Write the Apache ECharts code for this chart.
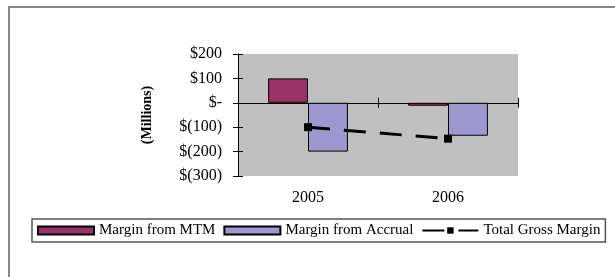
<!DOCTYPE html>
<html>
<head>
<meta charset="utf-8">
<script src="https://cdn.jsdelivr.net/npm/echarts@6/dist/echarts.min.js"></script>
<style>
  html, body { margin: 0; padding: 0; background: #fff; }
  #chart { width: 615px; height: 277px; }
</style>
</head>
<body>
<div id="chart"></div>
<script>
// chart data
var years = ["2005", "2006"];
var marginMTM = [100, -12];
var marginAccrual = [-200, -135];
var totalGross = [-100, -147];

var font = "Liberation Serif";

function money(v) {
  if (v === 0) return "$-";
  if (v < 0) return "$(" + (-v) + ")";
  return "$" + v;
}

var myChart = echarts.init(document.getElementById("chart"), null, { renderer: "canvas" });

var option = {
  animation: false,
  backgroundColor: "#fff",
  textStyle: { fontFamily: font, color: "#000" },
  graphic: [
    {
      type: "rect",
      shape: { x: 9, y: 7, width: 640, height: 300 },
      style: { fill: null, stroke: "#888", lineWidth: 2 },
      silent: true,
    },
  ],
  grid: {
    left: 238,
    right: 97,
    top: 54,
    bottom: 101,
    show: true,
    backgroundColor: "#c0c0c0",
    borderWidth: 0,
  },
  legend: {
    left: 32,
    top: 219,
    padding: [4, 5],
    itemGap: 8,
    itemWidth: 56,
    itemHeight: 8,
    borderColor: "#555",
    borderWidth: 1.5,
    textStyle: { fontFamily: font, fontSize: 15, color: "#000" },
    data: [
      { name: "Margin from MTM", icon: "rect" },
      { name: "Margin from Accrual", icon: "rect" },
      { name: "Total Gross Margin" },
    ],
  },
  xAxis: [
    {
      // zero line, ticks below
      type: "category",
      data: years,
      axisLine: { onZero: true, onZeroAxisIndex: 0, lineStyle: { color: "#000", width: 1 } },
      axisTick: { show: true, inside: false, length: 5, lineStyle: { color: "#000" } },
      axisLabel: { show: false },
    },
    {
      // zero line, ticks above
      type: "category",
      data: years,
      position: "bottom",
      axisLine: { onZero: true, onZeroAxisIndex: 1, lineStyle: { color: "#000", width: 1 } },
      axisTick: { show: true, inside: true, length: 5, lineStyle: { color: "#000" } },
      axisLabel: { show: false },
    },
    {
      // labels at the bottom
      type: "category",
      data: years,
      position: "bottom",
      axisLine: { show: false, onZero: false },
      axisTick: { show: false },
      axisLabel: { margin: 14, fontFamily: font, fontSize: 16, color: "#000" },
    },
  ],
  yAxis: [
    {
      type: "value",
      min: -300,
      max: 200,
      interval: 100,
      name: "(Millions)",
      nameLocation: "middle",
      nameGap: 84,
      nameTextStyle: { fontFamily: font, fontSize: 14, fontWeight: "bold", color: "#000" },
      axisLine: { show: true, lineStyle: { color: "#000", width: 1 } },
      axisTick: { show: true, inside: false, length: 5, lineStyle: { color: "#000" } },
      axisLabel: { margin: 16, fontFamily: font, fontSize: 16, color: "#000", formatter: money },
      splitLine: { show: false },
    },
    {
      type: "value",
      position: "left",
      min: -300,
      max: 200,
      interval: 100,
      axisLine: { show: false },
      axisTick: { show: true, inside: true, length: 5, lineStyle: { color: "#000" } },
      axisLabel: { show: false },
      splitLine: { show: false },
    },
  ],
  series: [
    {
      name: "Margin from MTM",
      type: "bar",
      data: marginMTM,
      barGap: "0%",
      barCategoryGap: "43%",
      itemStyle: { color: "#993366", borderColor: "#000", borderWidth: 1 },
    },
    {
      name: "Margin from Accrual",
      type: "bar",
      data: marginAccrual,
      barGap: "0%",
      barCategoryGap: "43%",
      itemStyle: { color: "#9c98cf", borderColor: "#000", borderWidth: 1 },
    },
    {
      name: "Total Gross Margin",
      type: "line",
      data: totalGross,
      symbol: "rect",
      symbolSize: 8,
      itemStyle: { color: "#000" },
      lineStyle: { color: "#000", width: 3, type: [22, 14] },
      z: 5,
    },
  ],
};

myChart.setOption(option);
window.addEventListener("resize", myChart.resize);
</script>
</body>
</html>
